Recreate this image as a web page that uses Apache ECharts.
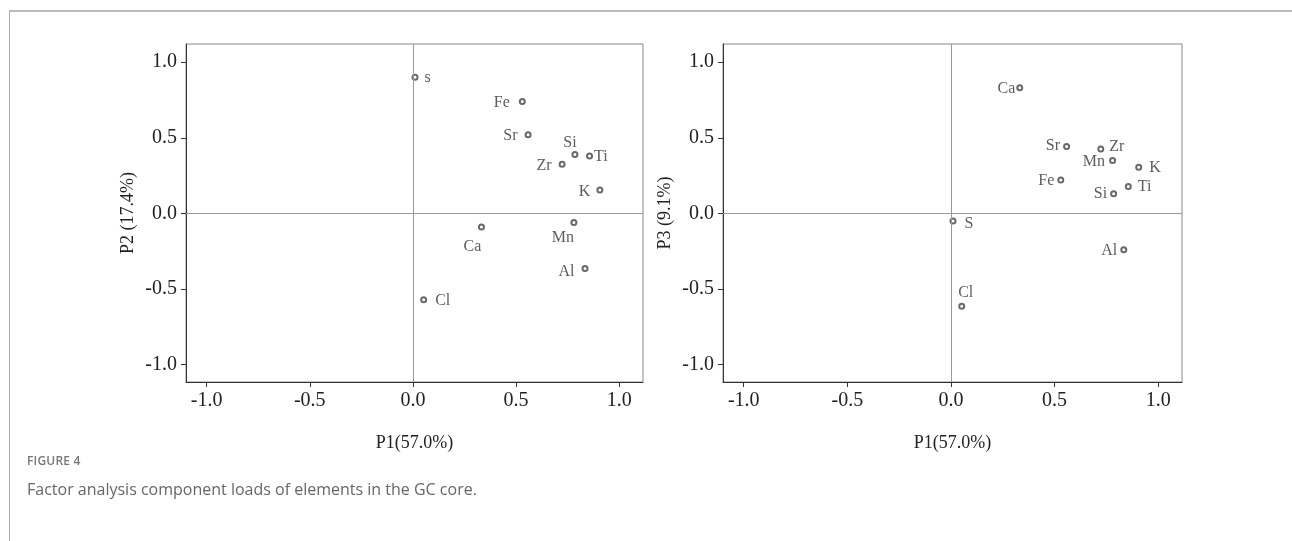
<!DOCTYPE html>
<html>
<head>
<meta charset="utf-8">
<script src="https://cdn.jsdelivr.net/npm/echarts@6/dist/echarts.min.js"></script>
<style>
  html, body { margin: 0; padding: 0; background: #fff; }
  #wrap { position: relative; width: 1292px; height: 541px; overflow: hidden; }
  #frame { position: absolute; left: 9px; top: 10px; right: -2px; bottom: -2px;
           border-left: 1px solid #aaa; border-top: 2px solid #bbb; }
  #chart { position: absolute; left: 0; top: 0; width: 1292px; height: 541px; }
  .cap1 { position: absolute; left: 27px; top: 452px; font-family: "Open Sans", sans-serif;
          font-size: 12px; font-weight: 600; color: #777; letter-spacing: 0.2px; }
  .cap2 { position: absolute; left: 27px; top: 478px; font-family: "Open Sans", sans-serif;
          font-size: 16px; color: #666; }
</style>
</head>
<body>
<div id="wrap">
  <div id="frame"></div>
  <div id="chart"></div>
  <div class="cap1">FIGURE 4</div>
  <div class="cap2">Factor analysis component loads of elements in the GC core.</div>
</div>
<script>
// 元素及因子载荷
var elements = ['S', 'Fe', 'Sr', 'Si', 'Ti', 'Zr', 'K', 'Mn', 'Ca', 'Al', 'Cl'];
var p1 = [0.01, 0.53, 0.558, 0.785, 0.856, 0.723, 0.906, 0.78, 0.332, 0.834, 0.052];
var p2 = [0.90, 0.74, 0.52, 0.39, 0.38, 0.325, 0.155, -0.06, -0.09, -0.364, -0.571];
var p3 = [-0.05, 0.22, 0.443, 0.13, 0.178, 0.426, 0.305, 0.35, 0.83, -0.24, -0.614];
var tickValues = [-1.0, -0.5, 0.0, 0.5, 1.0];

// 标签位置
var posP2 = {
    S: ['right', [0, 1]], Fe: ['left', [-3, 1]], Sr: ['left', [-1, 1]], Si: ['top', [-5, 6]],
    Ti: ['right', [-5, 1]], Zr: ['left', [-1, 2]], K: ['left', [0, 2]], Mn: ['bottom', [-11, -2]],
    Ca: ['bottom', [-9, 2]], Al: ['left', [-1, 3]], Cl: ['right', [2, 1]]
};
var posP3 = {
    S: ['right', [2, 3]], Fe: ['left', [3, 1]], Sr: ['left', [3, -1]], Si: ['left', [3, 0]],
    Ti: ['right', [0, 0]], Zr: ['right', [-1, -2]], K: ['right', [1, 1]], Mn: ['left', [2, 1]],
    Ca: ['left', [5, 1]], Al: ['left', [3, 1]], Cl: ['top', [4, 4]]
};

function pts(ys, pos, lower) {
    return elements.map(function (e, i) {
        var p = pos[e];
        return {
            name: (lower && e === 'S') ? 's' : e,
            value: [p1[i], ys[i]],
            label: { position: p[0], offset: p[1] }
        };
    });
}

var serif = '"Liberation Serif", "DejaVu Serif", serif';

function xAxis(idx) {
    return {
        type: 'value', gridIndex: idx, min: -1.1, max: 1.115,
        name: 'P1(57.0%)', nameLocation: 'middle', nameGap: 52,
        nameTextStyle: { fontFamily: serif, fontSize: 18, color: '#222' },
        axisLine: { onZero: false, lineStyle: { color: '#333', width: 1 } },
        axisTick: { customValues: tickValues, length: 5, inside: false, lineStyle: { color: '#333' } },
        axisLabel: {
            customValues: tickValues, fontFamily: serif, fontSize: 20, color: '#222', margin: 9,
            formatter: function (v) { return v.toFixed(1); }
        },
        splitLine: { show: false }
    };
}
function yAxis(idx, name) {
    return {
        type: 'value', gridIndex: idx, min: -1.115, max: 1.12,
        name: name, nameLocation: 'middle', nameGap: 49,
        nameTextStyle: { fontFamily: serif, fontSize: 18, color: '#222' },
        axisLine: { onZero: false, lineStyle: { color: '#333', width: 1 } },
        axisTick: { customValues: tickValues, length: 5, lineStyle: { color: '#333' } },
        axisLabel: {
            customValues: tickValues, fontFamily: serif, fontSize: 20, color: '#222', margin: 9,
            formatter: function (v) { return v.toFixed(1); }
        },
        splitLine: { show: false }
    };
}

function scatter(idx, ys, pos, lower) {
    return {
        type: 'scatter', xAxisIndex: idx, yAxisIndex: idx,
        symbol: 'emptyCircle', symbolSize: 5,
        itemStyle: { color: '#444', borderColor: '#444', borderWidth: 0.9 },
        label: {
            show: true, distance: 6, fontFamily: serif, fontSize: 16, color: '#333',
            formatter: '{b}'
        },
        emphasis: { disabled: true },
        markLine: {
            silent: true, symbol: 'none', label: { show: false },
            lineStyle: { color: '#999', width: 1, type: 'solid' },
            data: [{ xAxis: 0 }, { yAxis: 0 }]
        },
        data: pts(ys, pos, lower)
    };
}

var myChart = echarts.init(document.getElementById('chart'));
var option = {
    animation: false,
    grid: [
        { left: 186, top: 44, width: 457, height: 338, show: true, borderColor: '#888', borderWidth: 1, backgroundColor: 'transparent' },
        { left: 723, top: 44, width: 459, height: 338, show: true, borderColor: '#888', borderWidth: 1, backgroundColor: 'transparent' }
    ],
    xAxis: [xAxis(0), xAxis(1)],
    yAxis: [yAxis(0, 'P2 (17.4%)'), yAxis(1, 'P3 (9.1%)')],
    series: [scatter(0, p2, posP2, true), scatter(1, p3, posP3, false)]
};
myChart.setOption(option, true);
</script>
</body>
</html>
